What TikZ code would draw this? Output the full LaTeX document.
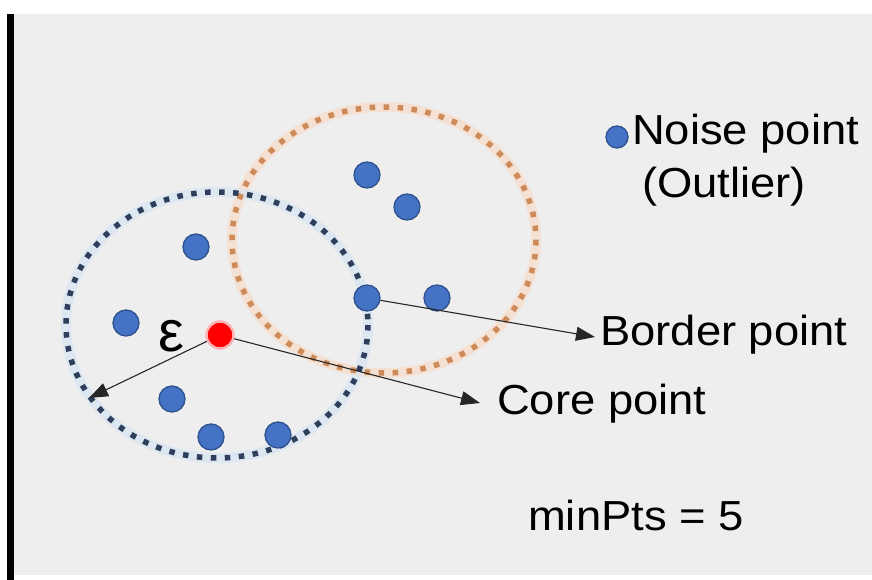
\documentclass[tikz,border=0pt]{standalone}
\usepackage{fontspec}
\setmainfont{Liberation Sans}
\usetikzlibrary{arrows.meta}
\definecolor{bg}{HTML}{EEEEEE}
\definecolor{dotblue}{HTML}{4472C4}
\definecolor{dotedge}{HTML}{2F528F}
\definecolor{navy}{HTML}{2E3F5C}
\definecolor{halob}{HTML}{D3E3F3}
\definecolor{orng}{HTML}{CF8A5A}
\definecolor{haloo}{HTML}{F7DCC8}
\newcommand\lbl[1]{\scalebox{1.08}[1]{\fontsize{42}{48}\selectfont #1}}
\tikzset{
  bluedot/.style={circle,fill=dotblue,draw=dotedge,line width=1.3pt,minimum size=26pt,inner sep=0pt},
  reddot/.style={circle,fill=red,draw=red!30,line width=2.5pt,minimum size=27pt,inner sep=0pt},
  blueedge/.style={navy,line width=5.5pt,dash pattern=on 5.5pt off 8.5pt},
  blueglow/.style={halob,line width=10pt,opacity=0.6},
  orangeedge/.style={orng,line width=5.5pt,dash pattern=on 5.5pt off 8.5pt},
  orangeglow/.style={haloo,line width=10pt,opacity=0.7},
  arr/.style={-{Triangle[length=19pt,width=14pt]},line width=1.1pt,black!85},
  txt/.style={inner sep=0pt,anchor=base west}
}
\begin{document}
\begin{tikzpicture}[x=1pt,y=-1pt]
\useasboundingbox (0,0) rectangle (872,580);
\fill[white] (0,0) rectangle (872,580);
\fill[bg] (14,14) rectangle (872,575);
\fill[black] (7,14) rectangle (14,580);
% glows
\draw[orangeglow] (384,240) ellipse [x radius=152, y radius=133];
\draw[blueglow] (217,325) ellipse [x radius=151, y radius=133];
% circles
\draw[orangeedge] (384,240) ellipse [x radius=152, y radius=133];
\draw[blueedge] (217,325) ellipse [x radius=151, y radius=133];
% points
\node[bluedot] (p1) at (196,247) {};
\node[bluedot] (p2) at (126,323) {};
\node[bluedot] (p3) at (172,399) {};
\node[bluedot] (p4) at (211,437) {};
\node[bluedot] (p5) at (278,435) {};
\node[bluedot] (p6) at (367,175) {};
\node[bluedot] (p7) at (407,207) {};
\node[bluedot] (border) at (367,298) {};
\node[bluedot] (p9) at (437,298) {};
\node[reddot] (core) at (220,335) {};
% labels
\node[inner sep=0pt] (eps) at (171,336) {\fontsize{58}{60}\selectfont ε};
\node[bluedot,minimum size=22pt] (legdot) at (617,137) {};
\node[txt] (noise) at (632,145) {\lbl{Noise point}};
\node[txt] (outl) at (642,197) {\lbl{(Outlier)}};
\node[txt] (bordert) at (600,345) {\lbl{Border point}};
\node[txt] (coret) at (497,414) {\lbl{Core point}};
\node[txt] (minpts) at (528,530) {\lbl{minPts = 5}};
% arrows
\coordinate (epstip) at (89,398);
\coordinate (coretip) at (480,403);
\coordinate (bordertip) at (595,337);
\draw[arr] (core) -- (epstip);
\draw[arr] (core) -- (coretip);
\draw[arr] (border) -- (bordertip);
\end{tikzpicture}
\end{document}
